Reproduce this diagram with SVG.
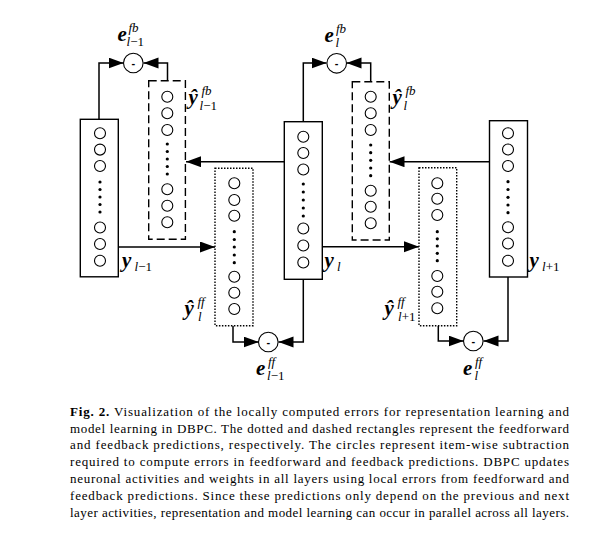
<svg xmlns="http://www.w3.org/2000/svg" width="595" height="551" viewBox="0 0 595 551">
<defs>
<style>
.box{fill:#fff;stroke:#000;stroke-width:1.4}
.dash{fill:#fff;stroke:#000;stroke-width:1.4;stroke-dasharray:8 4}
.dot{fill:#fff;stroke:#000;stroke-width:1.4;stroke-dasharray:1.5 1.5}
.n{fill:#fff;stroke:#000;stroke-width:1.1}
.d{fill:#000}
.sub{fill:#fff;stroke:#000;stroke-width:1.1}
.wire{fill:none;stroke:#000;stroke-width:1.5}
.v{font-family:"Liberation Serif",serif;font-weight:bold;font-style:italic;font-size:21px}
.s{font-family:"Liberation Serif",serif;font-style:italic;font-size:13px}
.u{font-style:normal}
.m{font-family:"Liberation Sans",sans-serif;font-size:11px;font-weight:bold;text-anchor:middle}
.cap{font-family:"Liberation Serif",serif;font-size:13px}
</style>
<marker id="ah" markerUnits="userSpaceOnUse" markerWidth="16" markerHeight="12" refX="15" refY="5.5" orient="auto">
<path d="M0,0 L15,5.5 L0,11 z" fill="#000"/>
</marker>
</defs>
<rect width="595" height="551" fill="#fff"/>

<g id="connectors">
<path class="wire" d="M99,119 V63 H123.5" marker-end="url(#ah)"/>
<path class="wire" d="M167.5,81 V63 H143.5" marker-end="url(#ah)"/>
<path class="wire" d="M284.5,161.7 H186" marker-end="url(#ah)"/>
<path class="wire" d="M118,247 H215" marker-end="url(#ah)"/>
<path class="wire" d="M233,325.7 V342 H258.5" marker-end="url(#ah)"/>
<path class="wire" d="M303.3,279 V342 H278.5" marker-end="url(#ah)"/>
<path class="wire" d="M303.3,122 V63 H326.5" marker-end="url(#ah)"/>
<path class="wire" d="M370.7,82 V63 H346.5" marker-end="url(#ah)"/>
<path class="wire" d="M490,161.7 H389.5" marker-end="url(#ah)"/>
<path class="wire" d="M322,246.7 H419" marker-end="url(#ah)"/>
<path class="wire" d="M438.3,325.7 V341 H463.5" marker-end="url(#ah)"/>
<path class="wire" d="M508,277 V341 H483.5" marker-end="url(#ah)"/>
</g>

<g id="layer-y-lminus1">
<rect class="box" x="80.3" y="119.3" width="38" height="157.5"/>
<circle class="n" cx="100" cy="133.3" r="5.5"/><circle class="n" cx="100" cy="149.6" r="5.5"/><circle class="n" cx="100" cy="166" r="5.5"/>
<circle class="d" cx="100" cy="182" r="1.6"/><circle class="d" cx="100" cy="189.5" r="1.6"/><circle class="d" cx="100" cy="197" r="1.6"/><circle class="d" cx="100" cy="204.5" r="1.6"/><circle class="d" cx="100" cy="212" r="1.6"/>
<circle class="n" cx="100" cy="227.5" r="5.5"/><circle class="n" cx="100" cy="244" r="5.5"/><circle class="n" cx="100" cy="260.8" r="5.5"/>
<text class="v" x="122" y="267">y</text><text class="s" x="134.5" y="271">l<tspan class="u">−1</tspan></text>
</g>

<g id="pred-fb-lminus1">
<rect class="dash" x="148.7" y="80.7" width="36.7" height="158.6"/>
<circle class="n" cx="167.3" cy="96.7" r="5.5"/><circle class="n" cx="167.3" cy="113.3" r="5.5"/><circle class="n" cx="167.3" cy="130" r="5.5"/>
<circle class="d" cx="167.3" cy="144" r="1.6"/><circle class="d" cx="167.3" cy="151.5" r="1.6"/><circle class="d" cx="167.3" cy="159" r="1.6"/><circle class="d" cx="167.3" cy="166.5" r="1.6"/><circle class="d" cx="167.3" cy="174" r="1.6"/>
<circle class="n" cx="167.3" cy="189.3" r="5.5"/><circle class="n" cx="167.3" cy="205.7" r="5.5"/><circle class="n" cx="167.3" cy="222.3" r="5.5"/>
<text class="v" x="188.5" y="104">ŷ</text><text class="s" x="201.5" y="95">fb</text><text class="s" x="199.5" y="110">l<tspan class="u">−1</tspan></text>
</g>

<g id="err-fb-lminus1">
<circle class="sub" cx="133.3" cy="63" r="9.8"/>
<text class="m" x="133.3" y="66.5">-</text>
<text class="v" x="117.5" y="41">e</text><text class="s" x="128.5" y="32">fb</text><text class="s" x="126.5" y="46">l<tspan class="u">−1</tspan></text>
</g>

<g id="pred-ff-l">
<rect class="dot" x="215" y="168.3" width="38" height="157.4"/>
<circle class="n" cx="234.3" cy="183.3" r="5.5"/><circle class="n" cx="234.3" cy="200" r="5.5"/><circle class="n" cx="234.3" cy="215.7" r="5.5"/>
<circle class="d" cx="234.3" cy="231.7" r="1.6"/><circle class="d" cx="234.3" cy="239.5" r="1.6"/><circle class="d" cx="234.3" cy="247" r="1.6"/><circle class="d" cx="234.3" cy="255" r="1.6"/><circle class="d" cx="234.3" cy="262.7" r="1.6"/>
<circle class="n" cx="234.3" cy="276.7" r="5.5"/><circle class="n" cx="234.3" cy="292.7" r="5.5"/><circle class="n" cx="234.3" cy="309" r="5.5"/>
<text class="v" x="184.5" y="315">ŷ</text><text class="s" x="197.5" y="306">ff</text><text class="s" x="198" y="321">l</text>
</g>

<g id="err-ff-lminus1">
<circle class="sub" cx="268.3" cy="342" r="9.8"/>
<text class="m" x="268.3" y="345.5">-</text>
<text class="v" x="256" y="375">e</text><text class="s" x="268" y="366">ff</text><text class="s" x="267" y="380">l<tspan class="u">−1</tspan></text>
</g>

<g id="layer-y-l">
<rect class="box" x="284.3" y="121.7" width="38" height="157.6"/>
<circle class="n" cx="303.3" cy="136.7" r="5.5"/><circle class="n" cx="303.3" cy="153" r="5.5"/><circle class="n" cx="303.3" cy="169.5" r="5.5"/>
<circle class="d" cx="303.3" cy="184" r="1.6"/><circle class="d" cx="303.3" cy="192" r="1.6"/><circle class="d" cx="303.3" cy="200" r="1.6"/><circle class="d" cx="303.3" cy="208" r="1.6"/><circle class="d" cx="303.3" cy="216" r="1.6"/>
<circle class="n" cx="303.3" cy="228.5" r="5.5"/><circle class="n" cx="303.3" cy="245.5" r="5.5"/><circle class="n" cx="303.3" cy="262.5" r="5.5"/>
<text class="v" x="324.5" y="267">y</text><text class="s" x="337" y="271">l</text>
</g>

<g id="pred-fb-l">
<rect class="dash" x="352.3" y="81.7" width="37" height="158.3"/>
<circle class="n" cx="370.7" cy="96.7" r="5.5"/><circle class="n" cx="370.7" cy="113.3" r="5.5"/><circle class="n" cx="370.7" cy="130" r="5.5"/>
<circle class="d" cx="370.7" cy="145" r="1.6"/><circle class="d" cx="370.7" cy="152.7" r="1.6"/><circle class="d" cx="370.7" cy="160.3" r="1.6"/><circle class="d" cx="370.7" cy="168" r="1.6"/><circle class="d" cx="370.7" cy="175.7" r="1.6"/>
<circle class="n" cx="370.7" cy="190.7" r="5.5"/><circle class="n" cx="370.7" cy="206.7" r="5.5"/><circle class="n" cx="370.7" cy="223.3" r="5.5"/>
<text class="v" x="392.5" y="104">ŷ</text><text class="s" x="405.5" y="95">fb</text><text class="s" x="403.5" y="110">l</text>
</g>

<g id="err-fb-l">
<circle class="sub" cx="336.7" cy="63.3" r="9.8"/>
<text class="m" x="336.7" y="66.8">-</text>
<text class="v" x="324.5" y="42">e</text><text class="s" x="336" y="33">fb</text><text class="s" x="335.5" y="47">l</text>
</g>

<g id="pred-ff-lplus1">
<rect class="dot" x="419" y="167.7" width="37.7" height="158"/>
<circle class="n" cx="437.3" cy="183.3" r="5.5"/><circle class="n" cx="437.3" cy="198.8" r="5.5"/><circle class="n" cx="437.3" cy="215" r="5.5"/>
<circle class="d" cx="437.3" cy="231.7" r="1.6"/><circle class="d" cx="437.3" cy="238.8" r="1.6"/><circle class="d" cx="437.3" cy="246" r="1.6"/><circle class="d" cx="437.3" cy="253.3" r="1.6"/><circle class="d" cx="437.3" cy="260.7" r="1.6"/>
<circle class="n" cx="437.3" cy="276" r="5.5"/><circle class="n" cx="437.3" cy="291.7" r="5.5"/><circle class="n" cx="437.3" cy="308.3" r="5.5"/>
<text class="v" x="384.5" y="315">ŷ</text><text class="s" x="397.5" y="306">ff</text><text class="s" x="398" y="321">l<tspan class="u">+1</tspan></text>
</g>

<g id="err-ff-l">
<circle class="sub" cx="473.3" cy="341" r="9.8"/>
<text class="m" x="473.3" y="344.5">-</text>
<text class="v" x="463" y="375">e</text><text class="s" x="475" y="366">ff</text><text class="s" x="474.5" y="380">l</text>
</g>

<g id="layer-y-lplus1">
<rect class="box" x="489.5" y="120.7" width="38" height="156.3"/>
<circle class="n" cx="508" cy="133.3" r="5.5"/><circle class="n" cx="508" cy="149.5" r="5.5"/><circle class="n" cx="508" cy="166" r="5.5"/>
<circle class="d" cx="508" cy="181.7" r="1.6"/><circle class="d" cx="508" cy="189.5" r="1.6"/><circle class="d" cx="508" cy="197.3" r="1.6"/><circle class="d" cx="508" cy="205" r="1.6"/><circle class="d" cx="508" cy="212.7" r="1.6"/>
<circle class="n" cx="508" cy="227.3" r="5.5"/><circle class="n" cx="508" cy="243.5" r="5.5"/><circle class="n" cx="508" cy="260.7" r="5.5"/>
<text class="v" x="529.5" y="267">y</text><text class="s" x="542" y="271">l<tspan class="u">+1</tspan></text>
</g>

<g id="caption" class="cap">
<text x="70" y="415.7" textLength="499" lengthAdjust="spacing"><tspan font-weight="bold">Fig. 2.</tspan> Visualization of the locally computed errors for representation learning and</text>
<text x="70" y="432.5" textLength="499" lengthAdjust="spacing">model learning in DBPC. The dotted and dashed rectangles represent the feedforward</text>
<text x="70" y="449.3" textLength="499" lengthAdjust="spacing">and feedback predictions, respectively. The circles represent item-wise subtraction</text>
<text x="70" y="466.1" textLength="499" lengthAdjust="spacing">required to compute errors in feedforward and feedback predictions. DBPC updates</text>
<text x="70" y="483.1" textLength="499" lengthAdjust="spacing">neuronal activities and weights in all layers using local errors from feedforward and</text>
<text x="70" y="500" textLength="499" lengthAdjust="spacing">feedback predictions. Since these predictions only depend on the previous and next</text>
<text x="70" y="516.8" textLength="499" lengthAdjust="spacing">layer activities, representation and model learning can occur in parallel across all layers.</text>
</g>
</svg>
